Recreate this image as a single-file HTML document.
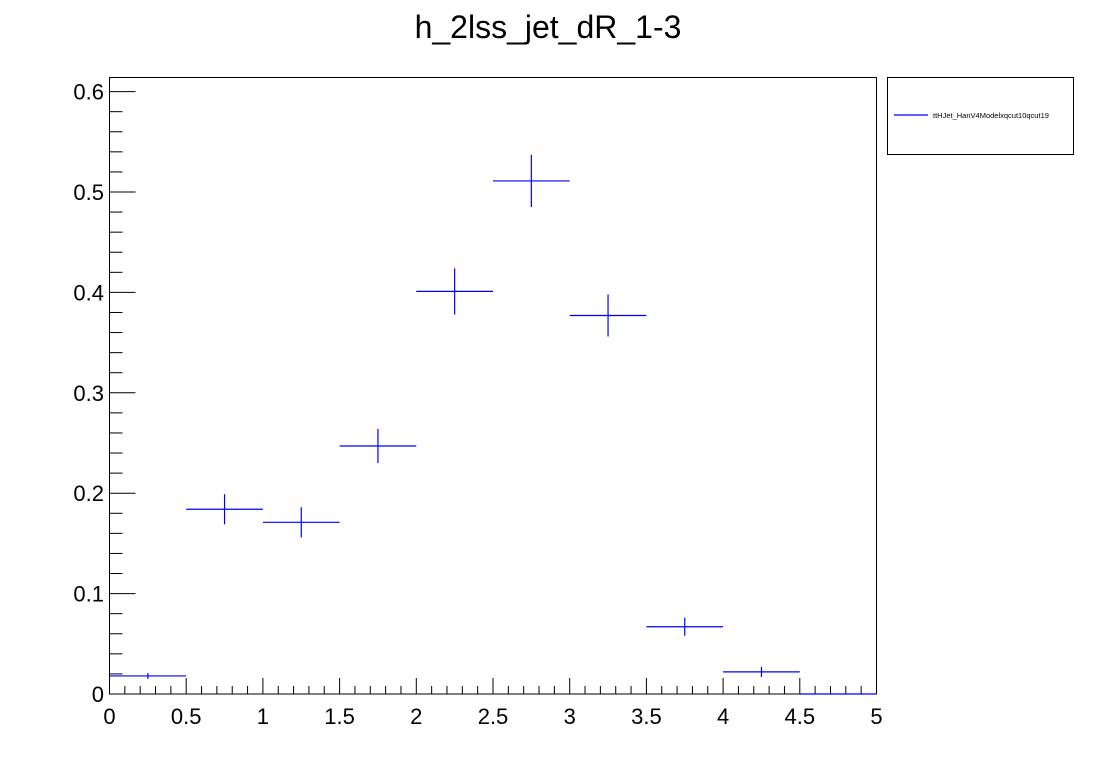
<!DOCTYPE html>
<html><head><meta charset="utf-8"><style>
html,body{margin:0;padding:0;background:#fff;}
svg text{font-family:"Liberation Sans",sans-serif;}
</style></head><body>
<svg id="c" width="1096" height="772" xmlns="http://www.w3.org/2000/svg">
<rect width="1096" height="772" fill="#fff"/>
<text x="548" y="38" font-size="32" text-anchor="middle">h_2lss_jet_dR_1-3</text>
<rect x="109.5" y="77.5" width="767" height="616.5" fill="none" stroke="#000"/>
<g id="axes"></g>
<g id="marks"></g>
<g>
<rect x="887.5" y="77.5" width="186" height="77" fill="#fff" stroke="#000"/>
<line x1="894" y1="115" x2="928" y2="115" stroke="#00f" stroke-width="1.2"/>
<text x="933" y="118" font-size="7.5">ttHJet_HanV4Modelxqcut10qcut19</text>
</g>
</svg>
<script>
const binEdges=[0,0.5,1,1.5,2,2.5,3,3.5,4,4.5,5];
const values=[0.018,0.184,0.171,0.247,0.401,0.511,0.377,0.067,0.022,0.0];
const errors=[0.003,0.015,0.015,0.017,0.023,0.026,0.021,0.009,0.005,0.0];
const xTicks=[0,0.5,1,1.5,2,2.5,3,3.5,4,4.5,5];
const xTickLabels=["0","0.5","1","1.5","2","2.5","3","3.5","4","4.5","5"];
const yTicks=[0,0.1,0.2,0.3,0.4,0.5,0.6];
const yTickLabels=["0","0.1","0.2","0.3","0.4","0.5","0.6"];
const NS="http://www.w3.org/2000/svg";
const X0=109.5,X1=876.5,Y0=694,Ymax=0.615;
const xs=v=>X0+(X1-X0)*v/5;
const ys=v=>Y0-v*1004;
function mk(tag,attrs,parent){const e=document.createElementNS(NS,tag);for(const k in attrs)e.setAttribute(k,attrs[k]);parent.appendChild(e);return e;}
const ax=document.getElementById('axes');
for(let i=0;i<=50;i++){const v=i*0.1;const major=i%5===0;
 const t=mk('line',{x1:xs(v),x2:xs(v),y1:Y0,y2:Y0-(major?16:8),stroke:'#000'},ax);
 
 }
xTicks.forEach((v,i)=>{const t=mk('text',{x:xs(v),y:724,'font-size':22,'text-anchor':'middle'},ax);t.textContent=xTickLabels[i];
 
 });
for(let i=0;i<=30;i++){const v=i*0.02;if(ys(v)<78)continue;const major=i%5===0;
 const t=mk('line',{x1:X0,x2:X0+(major?26:13),y1:ys(v),y2:ys(v),stroke:'#000'},ax);
 
 }
yTicks.forEach((v,i)=>{const t=mk('text',{x:104,y:ys(v)+8,'font-size':22,'text-anchor':'end'},ax);t.textContent=yTickLabels[i];
 
 });
const mg=document.getElementById('marks');
values.forEach((v,i)=>{const a=binEdges[i],b=binEdges[i+1],c=(a+b)/2;
 const g=mk('g',{},mg);
 
 
 mk('line',{x1:xs(a),x2:xs(b),y1:ys(v),y2:ys(v),stroke:'#00f','stroke-width':1.2},g);
 if(errors[i]>0)mk('line',{x1:xs(c),x2:xs(c),y1:ys(v-errors[i]),y2:ys(v+errors[i]),stroke:'#00f','stroke-width':1.2},g);
});
</script>
</body></html>
